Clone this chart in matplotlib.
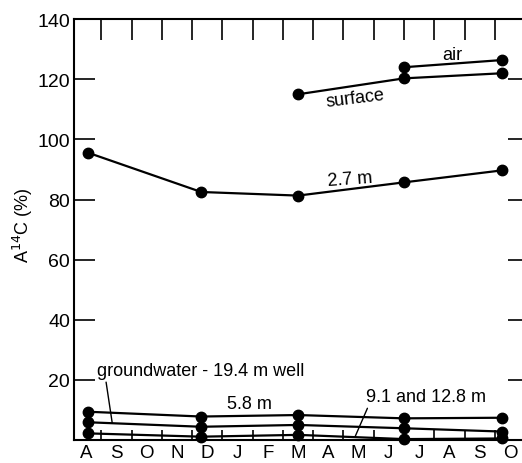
import matplotlib
matplotlib.use('Agg')
import matplotlib.pyplot as plt

plt.rcParams['font.family'] = ['Liberation Sans', 'DejaVu Sans']

# months from August to October of the following year
months = ['A', 'S', 'O', 'N', 'D', 'J', 'F', 'M', 'A', 'M', 'J', 'J', 'A', 'S', 'O']

# sampling dates, in months after mid-August
sample_x = [0.05, 3.8, 7.0, 10.5, 13.75]
upper_x = [7.0, 10.5, 13.75]
air_x = [10.5, 13.75]

air = [124.0, 126.4]
surface = [115.0, 120.3, 122.0]
depth_2_7 = [95.6, 82.5, 81.3, 85.7, 89.7]
depth_5_8 = [9.4, 7.8, 8.3, 7.2, 7.4]
groundwater = [5.9, 4.4, 5.0, 3.9, 2.8]
depth_9_12 = [2.2, 1.1, 1.7, 0.3, 0.5]

fig = plt.figure(figsize=(5.22, 4.64), dpi=100)
ax = fig.add_axes([0.142, 0.0496, 0.858, 0.907])

line_kw = dict(color='black', lw=1.6, marker='o', ms=7.5, clip_on=False)
ax.plot(air_x, air, **line_kw)
ax.plot(upper_x, surface, **line_kw)
ax.plot(sample_x, depth_2_7, **line_kw)
ax.plot(sample_x, depth_5_8, **line_kw)
ax.plot(sample_x, groundwater, **line_kw)
ax.plot(sample_x, depth_9_12, **line_kw)

ax.set_xlim(-0.4, 14.4)
ax.set_ylim(0, 140)

# x: labels at mid-month, ticks at month boundaries
ax.set_xticks(range(len(months)))
ax.set_xticklabels(months, fontsize=13.5)
ax.set_xticks([i + 0.5 for i in range(len(months) - 1)], minor=True)
ax.tick_params(axis='x', which='major', length=0, pad=3)
ax.tick_params(axis='x', which='minor', direction='in', length=7, width=1.2)

ax.set_yticks(range(20, 141, 20))
ax.tick_params(axis='y', direction='in', length=15, width=1.2, labelsize=14, pad=3)

for side in ['left', 'bottom', 'top']:
    ax.spines[side].set_linewidth(1.5)
ax.spines['right'].set_visible(False)

top = ax.secondary_xaxis('top')
top.set_xticks([i + 0.5 for i in range(len(months) - 1)])
top.tick_params(direction='in', length=15, width=1.2, labeltop=False)
top.spines['top'].set_visible(False)

right = ax.secondary_yaxis('right')
right.set_yticks(range(20, 121, 20))
right.tick_params(direction='in', length=10, width=1.2, labelright=False)
right.spines['right'].set_visible(False)

fig.text(23 / 522, 1 - 225 / 464, 'A$^{14}$C (%)', fontsize=13, rotation=90,
         ha='center', va='center')

fs = 13
ax.text(12.1, 128.3, 'air', fontsize=fs, ha='center', va='center')
ax.text(8.88, 113.7, 'surface', fontsize=fs, ha='center', va='center', rotation=7)
ax.text(8.71, 87.0, '2.7 m', fontsize=fs, ha='center', va='center', rotation=4)
ax.text(5.38, 12.0, '5.8 m', fontsize=fs, ha='center', va='center')
ax.annotate('groundwater - 19.4 m well', xy=(0.86, 5.6), xytext=(0.36, 23.0),
            fontsize=fs, ha='left', va='center',
            arrowprops=dict(arrowstyle='-', color='black', lw=1, shrinkA=0, shrinkB=0,
                            relpos=(0.04, 0.1)))
ax.annotate('9.1 and 12.8 m', xy=(8.88, 1.0), xytext=(11.22, 14.3),
            fontsize=fs, ha='center', va='center',
            arrowprops=dict(arrowstyle='-', color='black', lw=1, shrinkA=0, shrinkB=0,
                            relpos=(0.03, 0.1)))

fig.savefig('out.png', dpi=100)
